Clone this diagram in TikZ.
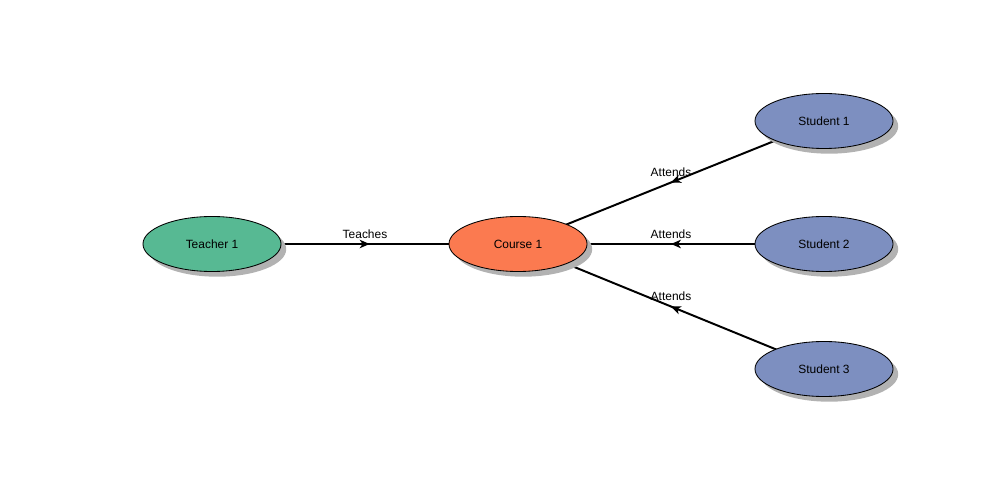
\documentclass[tikz,border=0pt]{standalone}
\usepackage{fontspec}
\setmainfont{Liberation Sans}
\usetikzlibrary{shapes.geometric,shadows,arrows.meta,decorations.markings}
\pgfdeclarelayer{background}
\pgfsetlayers{background,main}

\definecolor{teachergreen}{RGB}{87,185,147}
\definecolor{courseorange}{RGB}{251,122,80}
\definecolor{studentblue}{RGB}{125,143,192}

\tikzset{
  entity/.style={ellipse, draw=black, line width=0.6pt, minimum width=3.45cm,
    minimum height=1.375cm, inner sep=0pt, font=\fontsize{8.5}{10}\selectfont,
    drop shadow={shadow xshift=0.13cm, shadow yshift=-0.13cm, fill=black!30, opacity=1}},
  relation/.style={line width=1.4pt, decoration={markings,
    mark=at position #1 with {\arrow{Stealth[length=7pt,width=6pt,inset=2pt]}}},
    postaction={decorate}},
  relation/.default=0.5,
  rellabel/.style={midway, yshift=0.25cm, font=\fontsize{8.5}{10}\selectfont}
}

\begin{document}
\begin{tikzpicture}[x=0.025cm, y=-0.025cm]
  \useasboundingbox (0,0) rectangle (1008,504);
  \node[entity, fill=teachergreen] (teacher) at (212,244) {Teacher 1};
  \node[entity, fill=courseorange] (course) at (518,244) {Course 1};
  \node[entity, fill=studentblue] (student1) at (824,121) {Student 1};
  \node[entity, fill=studentblue] (student2) at (824,244) {Student 2};
  \node[entity, fill=studentblue] (student3) at (824,369) {Student 3};
  \begin{pgfonlayer}{background}
    \draw[relation=0.515] (teacher.center) -- (course.center) node[rellabel] {Teaches};
    \draw[relation] (student1.center) -- (course.center) node[rellabel] {Attends};
    \draw[relation] (student2.center) -- (course.center) node[rellabel] {Attends};
    \draw[relation] (student3.center) -- (course.center) node[rellabel] {Attends};
  \end{pgfonlayer}
\end{tikzpicture}
\end{document}
